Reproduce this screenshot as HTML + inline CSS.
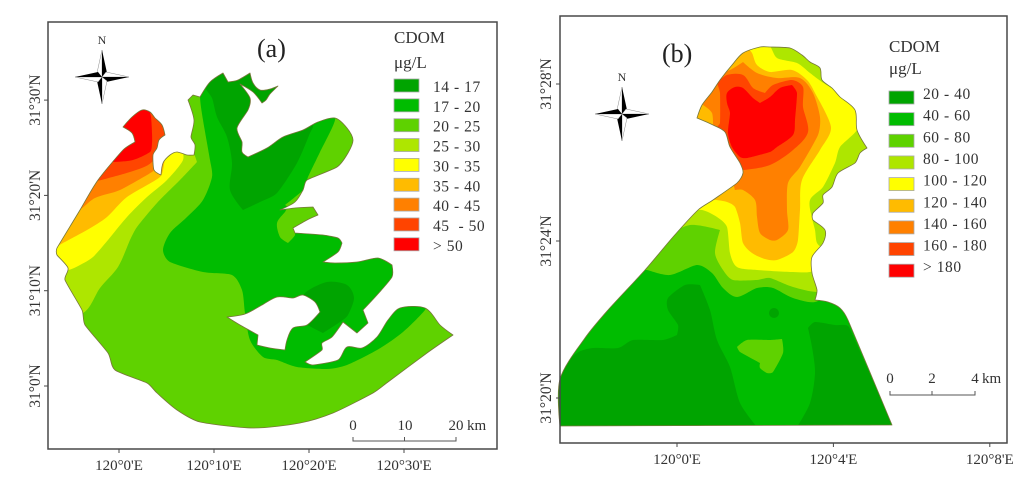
<!DOCTYPE html>
<html lang="en">
<head>
<meta charset="utf-8">
<title>CDOM maps</title>
<style>
html,body{margin:0;padding:0;background:#fff;width:1024px;height:488px;overflow:hidden}
svg{display:block;filter:blur(0.3px)}
text{font-family:"Liberation Serif",serif;fill:#333}
.land{stroke:none}
.outline{fill:none;stroke:#77773a;stroke-width:.8;stroke-linejoin:round}
</style>
</head>
<body>
<svg id="figure" width="1024" height="488" viewBox="0 0 1024 488" xmlns="http://www.w3.org/2000/svg">
<defs>
<filter id="soft" x="-5%" y="-5%" width="110%" height="110%"><feGaussianBlur stdDeviation="0.3"/></filter>
<clipPath id="clipA"><path clip-rule="evenodd" d="M123,127 132,117 142,110 150,112 155,118 162,125 165,135 159,140 157,148 153,155 154,170 161,175 163,163 170,155 177,152 187,155 194,155 195,145 191,137 194,120 188,100 193,95 200,97 210,82 223,73 228,82 238,80 250,73 253,83 260,90 270,89 278,86 270,94 266,100 262,103 253,92 240,84 250,98 248,110 237,128 242,142 242,152 248,157 267,148 283,137 303,130 318,122 335,118 347,128 353,140 348,153 337,167 307,180 303,190 295,202 280,210 295,208 313,207 318,215 307,220 293,228 295,233 323,235 338,238 342,243 338,252 323,262 335,263 357,262 378,258 392,265 392,277 377,295 363,310 368,323 357,333 343,322 332,337 322,343 322,350 305,362 313,365 338,360 347,347 362,348 377,337 388,320 400,308 425,308 440,325 453,335 427,353 388,382 373,393 333,413 300,423 253,428 200,422 177,410 157,393 147,383 115,370 108,353 85,325 82,310 65,280 68,268 57,255 57,248 80,210 98,180 123,150 135,142 132,133Z M227,317 245,314 262,305 277,297 293,298 303,295 315,302 320,312 307,325 293,328 287,340 285,350 270,348 257,345 258,335 240,325Z"/></clipPath>
<clipPath id="clipB"><path d="M697,118 702,105 712,92 720,80 732,65 743,53 760,47 770,47 790,48 802,55 810,62 820,68 822,80 832,88 840,97 855,110 857,130 867,148 860,153 855,163 838,173 832,187 823,195 823,203 813,213 813,220 825,230 823,243 812,257 812,273 817,290 815,300 828,302 840,308 848,320 892,425 560,426 560,379 585,338 608,310 645,270 673,237 698,210 713,200 737,183 743,173 740,163 730,147 725,132 713,125Z"/></clipPath>
<g id="compass-shape">
<polygon points="0,-27 -5,-4 0,0" fill="#fff" stroke="#888" stroke-width=".5"/><polygon points="0,-27 5,-4 0,0" fill="#000"/>
<polygon points="27,0 4,-5 0,0" fill="#fff" stroke="#888" stroke-width=".5"/><polygon points="27,0 4,5 0,0" fill="#000"/>
<polygon points="0,27 5,4 0,0" fill="#fff" stroke="#888" stroke-width=".5"/><polygon points="0,27 -5,4 0,0" fill="#000"/>
<polygon points="-27,0 -4,5 0,0" fill="#fff" stroke="#888" stroke-width=".5"/><polygon points="-27,0 -4,-5 0,0" fill="#000"/>
</g>
</defs>

<g id="panel-a">
<g filter="url(#soft)">
<g clip-path="url(#clipA)">
<rect class="land" x="40" y="60" width="430" height="380" fill="#5ed200"/>
<polygon class="land" fill="#00bc00" points="200,97 203,120 210,160 212,177 203,200 187,217 170,233 163,250 170,262 203,272 232,275 242,290 245,313 250,340 263,357 277,360 297,367 327,369 347,365 377,350 403,332 425,310 425,300 395,290 395,255 340,235 285,205 303,190 308,177 320,152 335,120 330,100 200,60"/>
<polygon class="land" fill="#5ed200" points="290,205 313,205 320,215 293,228 295,235 288,243 280,237 277,223 285,212"/>
<polygon class="land" fill="#00a400" points="212,98 217,117 227,137 232,163 230,190 243,210 260,202 277,193 297,163 310,133 313,125 300,100 260,60 220,60 205,85"/>
<polygon class="land" fill="#00a400" points="305,293 327,282 347,285 354,298 348,315 340,322 323,333 305,323 300,310"/>
<polygon class="land" fill="#aee600" points="40,320 83,313 100,288 118,267 130,240 137,227 157,203 180,180 197,162 192,150 150,100 40,100"/>
<polygon class="land" fill="#ffff00" points="40,270 68,270 80,265 93,257 108,240 127,217 147,197 167,180 183,160 180,145 150,100 40,100"/>
<polygon class="land" fill="#ffbb00" points="40,250 50,250 63,243 87,230 107,217 127,197 160,177 165,160 172,152 150,100 40,100"/>
<polygon class="land" fill="#ff8000" points="40,212 75,212 95,198 120,190 152,172 157,165 153,150 100,100 40,150"/>
<polygon class="land" fill="#ff4400" points="90,183 130,172 152,162 160,140 170,130 165,100 100,100"/>
<polygon class="land" fill="#ff0000" points="100,162 113,162 133,160 150,152 152,143 152,133 151,117 148,105 100,100"/>
</g>
<path class="outline" d="M123,127 132,117 142,110 150,112 155,118 162,125 165,135 159,140 157,148 153,155 154,170 161,175 163,163 170,155 177,152 187,155 194,155 195,145 191,137 194,120 188,100 193,95 200,97 210,82 223,73 228,82 238,80 250,73 253,83 260,90 270,89 278,86 270,94 266,100 262,103 253,92 240,84 250,98 248,110 237,128 242,142 242,152 248,157 267,148 283,137 303,130 318,122 335,118 347,128 353,140 348,153 337,167 307,180 303,190 295,202 280,210 295,208 313,207 318,215 307,220 293,228 295,233 323,235 338,238 342,243 338,252 323,262 335,263 357,262 378,258 392,265 392,277 377,295 363,310 368,323 357,333 343,322 332,337 322,343 322,350 305,362 313,365 338,360 347,347 362,348 377,337 388,320 400,308 425,308 440,325 453,335 427,353 388,382 373,393 333,413 300,423 253,428 200,422 177,410 157,393 147,383 115,370 108,353 85,325 82,310 65,280 68,268 57,255 57,248 80,210 98,180 123,150 135,142 132,133Z M227,317 245,314 262,305 277,297 293,298 303,295 315,302 320,312 307,325 293,328 287,340 285,350 270,348 257,345 258,335 240,325Z"/>
</g>
<text x="257" y="57" font-size="26" style="fill:#222">(a)</text>
<use href="#compass-shape" transform="translate(102,77)"/>
<text x="102" y="44" font-size="12" text-anchor="middle">N</text>
<g fill="none" stroke="#555" stroke-width="1">
<path d="M353,437V441H456V437M404.5,441V437"/>
</g>
<text x="353" y="430" font-size="15" text-anchor="middle">0</text>
<text x="405" y="430" font-size="15" text-anchor="middle">10</text>
<text x="456" y="430" font-size="15" text-anchor="middle">20</text>
<text x="467" y="430" font-size="15">km</text>
<text x="394" y="43" font-size="17">CDOM</text>
<text x="394" y="68" font-size="17">μg/L</text>
</g>

<g id="panel-b">
<g filter="url(#soft)">
<g clip-path="url(#clipB)">
<rect class="land" x="550" y="40" width="350" height="390" fill="#00bc00"/>
<polygon class="land" fill="#00a400" points="555,376 577,353 593,348 618,348 633,340 663,340 677,335 678,325 668,310 668,298 685,285 700,285 710,310 717,340 730,367 740,403 757,427 555,430"/>
<polygon class="land" fill="#00a400" points="797,427 810,403 815,373 812,347 808,328 815,322 835,325 849,327 895,430"/>
<circle class="land" fill="#00a400" cx="774" cy="313" r="5"/>
<polygon class="land" fill="#5ed200" points="737,347 747,340 770,340 782,339 783,353 773,372 767,373 760,368 760,363 740,352"/>
<polygon class="land" fill="#5ed200" points="647,270 670,275 697,265 712,273 723,288 737,297 757,288 773,288 793,298 815,302 830,290 880,150 880,30 650,30 640,270"/>
<polygon class="land" fill="#aee600" points="665,237 690,225 720,230 715,253 723,270 733,280 757,280 770,278 793,287 817,292 880,290 880,30 680,30"/>
<polygon class="land" fill="#ffff00" points="690,213 702,210 717,217 727,227 730,253 737,267 757,270 793,272 815,270 825,250 817,243 815,230 812,218 810,200 823,187 835,163 840,147 857,130 865,110 822,82 810,73 797,63 777,58 768,45 700,30 660,100 660,230"/>
<polygon class="land" fill="#ffbb00" points="705,205 713,200 727,202 735,207 740,223 743,243 752,253 765,259 777,260 793,252 798,240 800,210 802,180 820,150 831,127 815,93 807,80 792,70 770,72 757,65 752,53 745,45 690,80 690,130"/>
<polygon class="land" fill="#ff8000" points="703,105 712,113 713,128 720,130 735,190 743,190 755,200 757,217 760,233 770,240 777,240 788,230 787,210 788,183 800,167 818,135 820,117 813,93 800,78 777,78 757,73 743,62 730,70 715,75"/>
<polygon class="land" fill="#ff4400" points="717,83 727,75 743,75 753,88 765,93 773,85 792,80 803,87 803,107 808,132 793,150 770,165 743,170 725,170 715,130 720,123 720,93"/>
<polygon class="land" fill="#ff0000" points="727,93 735,87 743,88 753,98 760,103 770,97 780,88 792,85 797,93 795,120 793,135 777,147 770,152 747,158 740,157 732,147 728,133 730,113 727,103"/>
</g>
<path class="outline" d="M697,118 702,105 712,92 720,80 732,65 743,53 760,47 770,47 790,48 802,55 810,62 820,68 822,80 832,88 840,97 855,110 857,130 867,148 860,153 855,163 838,173 832,187 823,195 823,203 813,213 813,220 825,230 823,243 812,257 812,273 817,290 815,300 828,302 840,308 848,320 892,425 560,426 560,379 585,338 608,310 645,270 673,237 698,210 713,200 737,183 743,173 740,163 730,147 725,132 713,125Z"/>
</g>
<text x="662" y="62" font-size="26" style="fill:#222">(b)</text>
<use href="#compass-shape" transform="translate(622,114)"/>
<text x="622" y="81" font-size="12" text-anchor="middle">N</text>
<g fill="none" stroke="#555" stroke-width="1">
<path d="M890,391V395H975V391M932,395V391"/>
</g>
<text x="890" y="383" font-size="15" text-anchor="middle">0</text>
<text x="932" y="383" font-size="15" text-anchor="middle">2</text>
<text x="975" y="383" font-size="15" text-anchor="middle">4</text>
<text x="982" y="383" font-size="15">km</text>
<text x="889" y="52" font-size="17">CDOM</text>
<text x="889" y="74" font-size="17">μg/L</text>
</g>
</svg>

<script>
// Axis data (map minutes of arc)
var lonMinutesA = [0, 10, 20, 30];
var lonLabelsA = ["120°0'E", "120°10'E", "120°20'E", "120°30'E"];
var latMinutesA = [30, 20, 10, 0];
var latLabelsA = ["31°30'N", "31°20'N", "31°10'N", "31°0'N"];
var lonMinutesB = [0, 4, 8];
var lonLabelsB = ["120°0'E", "120°4'E", "120°8'E"];
var latMinutesB = [28, 24, 20];
var latLabelsB = ["31°28'N", "31°24'N", "31°20'N"];
// Legend data
var legendLabelsA = ["14 - 17", "17 - 20", "20 - 25", "25 - 30", "30 - 35", "35 - 40", "40 - 45", "45  - 50", "> 50"];
var legendLabelsB = ["20 - 40", "40 - 60", "60 - 80", "80 - 100", "100 - 120", "120 - 140", "140 - 160", "160 - 180", "> 180"];
var legendColors = ["#00a400", "#00bc00", "#5ed200", "#aee600", "#ffff00", "#ffbb00", "#ff8000", "#ff4400", "#ff0000"];

var NS = "http://www.w3.org/2000/svg";
function xA(m) { return 119 + m * 9.5; }
function yA(m) { return 386 - m * 9.53; }
function xB(m) { return 677 + m * 39.1; }
function yB(m) { return 398 - (m - 20) * 39.25; }

function make(tag, parent) {
  var e = document.createElementNS(NS, tag);
  parent.appendChild(e);
  return e;
}
function set(e, pairs) {
  for (var k in pairs) e.setAttribute(k, pairs[k]);
  return e;
}

// Round the hand-traced shorelines and contours into smooth curves,
// keeping sharp corners (angle over 60 degrees) and limiting handle length
function parseRing(s) {
  return s.trim().split(/\s+/).map(function (p) {
    return p.split(",").map(Number);
  });
}
function handleAt(prev, cur, next) {
  var ax = cur[0] - prev[0], ay = cur[1] - prev[1];
  var bx = next[0] - cur[0], by = next[1] - cur[1];
  var la = Math.hypot(ax, ay), lb = Math.hypot(bx, by);
  if (!la || !lb) return [0, 0];
  if ((ax * bx + ay * by) / (la * lb) < 0.5) return [0, 0];
  var tx = next[0] - prev[0], ty = next[1] - prev[1];
  var s = Math.min(la, lb) * 0.3 / Math.hypot(tx, ty);
  return [tx * s, ty * s];
}
function smoothRing(pts) {
  var n = pts.length;
  var d = "M" + pts[0][0] + "," + pts[0][1];
  for (var i = 0; i < n; i++) {
    var p0 = pts[(i - 1 + n) % n], p1 = pts[i], p2 = pts[(i + 1) % n], p3 = pts[(i + 2) % n];
    var h1 = handleAt(p0, p1, p2), h2 = handleAt(p1, p2, p3);
    d += "C" + (p1[0] + h1[0]).toFixed(1) + "," + (p1[1] + h1[1]).toFixed(1) +
         " " + (p2[0] - h2[0]).toFixed(1) + "," + (p2[1] - h2[1]).toFixed(1) +
         " " + p2[0] + "," + p2[1];
  }
  return d + "Z";
}
document.querySelectorAll("polygon.land").forEach(function (poly) {
  var path = document.createElementNS(NS, "path");
  Array.prototype.forEach.call(poly.attributes, function (a) {
    if (a.name !== "points") path.setAttribute(a.name, a.value);
  });
  path.setAttribute("d", smoothRing(parseRing(poly.getAttribute("points"))));
  poly.parentNode.replaceChild(path, poly);
});
document.querySelectorAll("clipPath path, path.outline").forEach(function (path) {
  var rings = path.getAttribute("d").split("Z").filter(function (s) { return s.trim(); });
  path.setAttribute("d", rings.map(function (r) {
    return smoothRing(parseRing(r.replace("M", "")));
  }).join(""));
});

function drawAxes(panelId, box, lons, lonLabels, lats, latLabels, xf, yf, rotX) {
  var p = document.getElementById(panelId);
  var frame = make("rect", p);
  
  
  set(frame, {x: box[0], y: box[1], width: box[2] - box[0], height: box[3] - box[1], fill: "none", stroke: "#484848", "stroke-width": 1.5});
  lons.forEach(function (m, i) {
    var px = xf(m);
    var t = make("line", p);
    
    
    set(t, {x1: px, x2: px, y1: box[3], y2: box[3] + 4, stroke: "#484848", "stroke-width": 1});
    var l = make("text", p);
    
    
    set(l, {x: px, y: box[3] + 21, "font-size": 15, "text-anchor": "middle"});
    l.textContent = lonLabels[i];
  });
  lats.forEach(function (m, i) {
    var py = yf(m);
    var t = make("line", p);
    
    
    set(t, {x1: box[0] - 4, x2: box[0], y1: py, y2: py, stroke: "#484848", "stroke-width": 1});
    var l = make("text", p);
    
    
    set(l, {x: 0, y: 0, "font-size": 15.5, "text-anchor": "middle", transform: "translate(" + rotX + "," + py + ") rotate(-90)"});
    l.textContent = latLabels[i];
  });
}

function drawLegend(panelId, labels, colors, x, top, step, textX, baseOffset) {
  var p = document.getElementById(panelId);
  labels.forEach(function (label, i) {
    var y = top + i * step;
    var sw = make("rect", p);
    
    
    set(sw, {x: x, y: y, width: 25, height: 13, fill: colors[i], stroke: "#aaa", "stroke-width": .8});
    var t = make("text", p);
    
    
    set(t, {x: textX, y: y + baseOffset, "font-size": 15.5, "letter-spacing": .55});
    t.setAttributeNS("http://www.w3.org/XML/1998/namespace", "xml:space", "preserve");
    t.textContent = label;
  });
}

drawAxes("panel-a", [48, 22, 497, 449], lonMinutesA, lonLabelsA, latMinutesA, latLabelsA, xA, yA, 40);
drawAxes("panel-b", [560, 16, 1007, 443], lonMinutesB, lonLabelsB, latMinutesB, latLabelsB, xB, yB, 551);
drawLegend("panel-a", legendLabelsA, legendColors, 394, 79, 19.85, 433, 13);
drawLegend("panel-b", legendLabelsB, legendColors, 889, 91, 21.65, 923, 8);
</script>
</body>
</html>
